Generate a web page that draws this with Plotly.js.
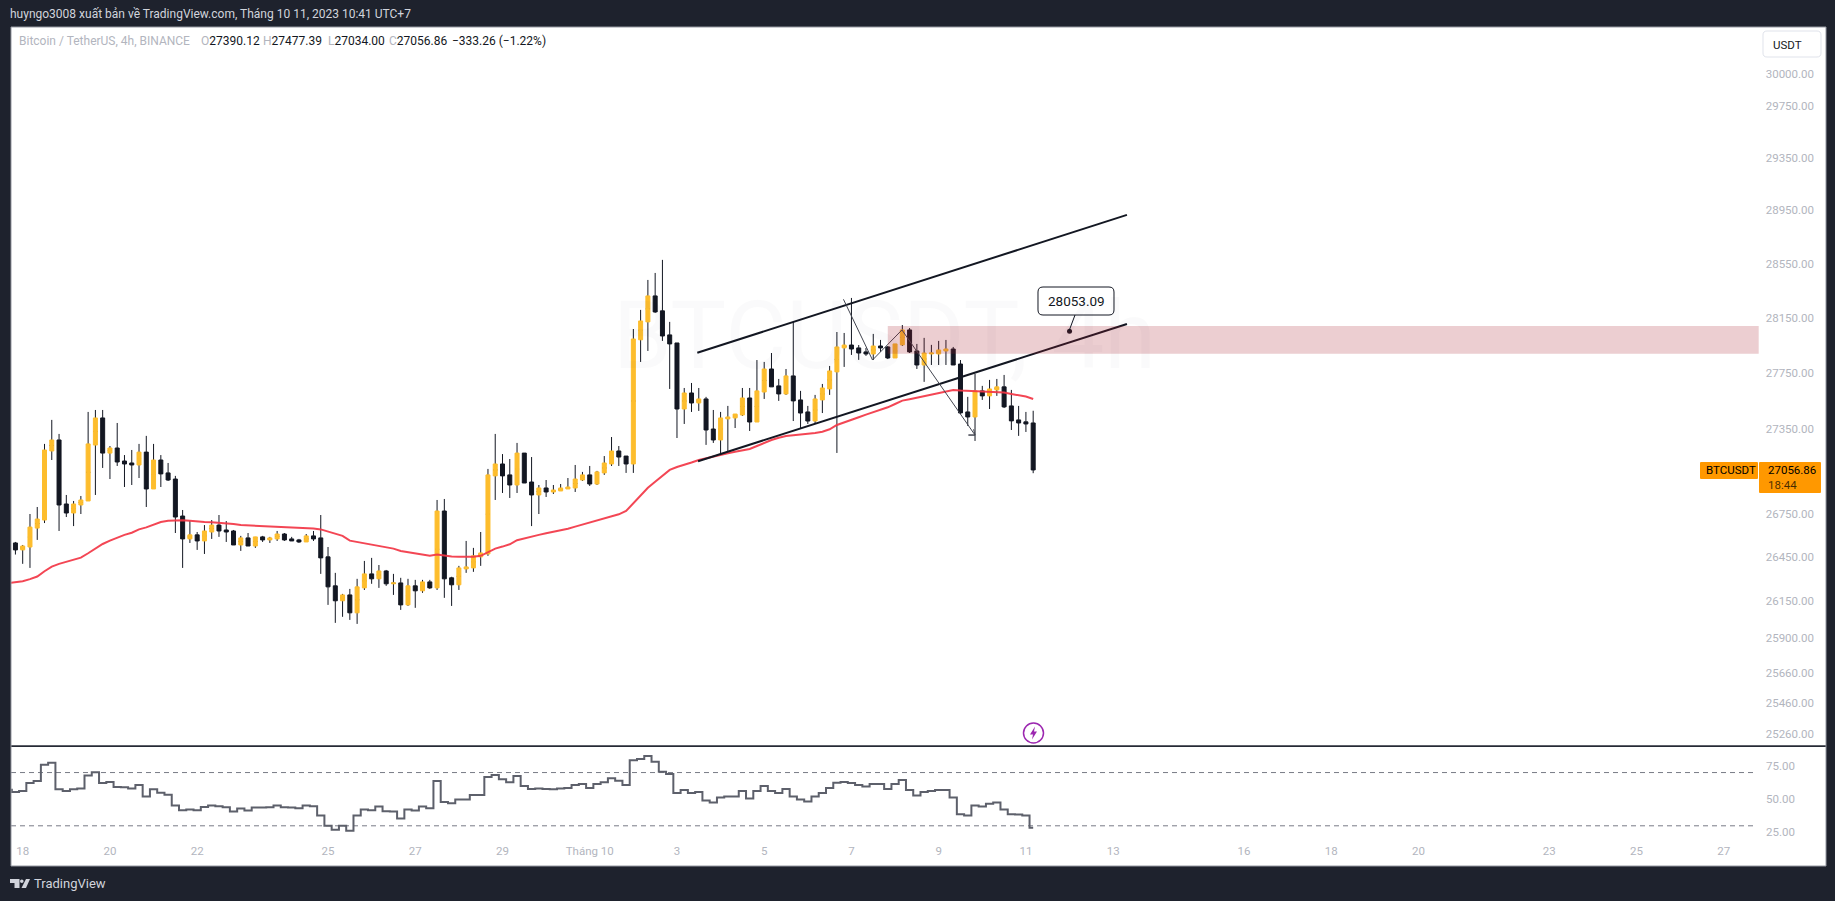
<!DOCTYPE html>
<html><head><meta charset="utf-8">
<script src="https://cdn.plot.ly/plotly-3.0.1.min.js"></script>
<style>html,body{margin:0;padding:0;background:#1e222d;overflow:hidden}#c{width:1835px;height:901px}</style>
</head><body><div id="c"></div>
<script>
// 4h candles, Binance BTC/USDT; the first bar is two bars before the "18" tick
const opens=[26568,26547,26499,26519,26650,26706,27191,27269,26818,26755,
26811,26839,27233,27426,27176,27212,27120,27106,27092,27183,
26923,27127,27036,26993,26734,26575,26603,26561,26623,26671,
26637,26630,26533,26582,26526,26589,26568,26575,26609,26575,
26568,26554,26596,26582,26451,26252,26150,26190,26068,26238,
26334,26300,26354,26266,26272,26122,26252,26218,26279,26238,
26769,26307,26259,26368,26375,26451,26471,27015,27099,27022,
26951,27176,26972,26881,26930,26902,26909,26923,26930,26986,
27022,26958,27036,27099,27191,27155,27099,27990,28121,28312,
28202,28026,27967,27490,27605,27533,27562,27347,27269,27419,
27426,27447,27569,27397,27612,27778,27656,27598,27728,27555,
27469,27404,27555,27634,27757,27931,27952,27931,27902,27887,
27945,27938,27858,27953,28062,27909,27807,27887,27887,27909,
27923,27814,27469,27433,27620,27584,27627,27649,27512,27412,
27398,27390.12];
const highs=[26575,26554,26533,26748,26797,27241,27412,27312,26881,26839,
26874,27469,27483,27483,27226,27390,27162,27198,27241,27298,
27241,27162,27106,27015,26776,26699,26623,26671,26706,26741,
26699,26637,26596,26616,26589,26596,26589,26630,26616,26589,
26575,26609,26630,26741,26519,26341,26197,26231,26300,26423,
26444,26395,26361,26334,26307,26300,26293,26293,26293,26846,
26853,26314,26389,26561,26513,26623,27064,27312,27169,27134,
27248,27176,27148,26951,26986,26951,26958,27000,27092,27043,
27085,27050,27155,27290,27226,27155,28069,28209,28430,28482,
28579,28121,27967,27641,27677,27641,27577,27483,27469,27512,
27454,27641,27641,27843,27829,27894,27706,27778,28121,27620,
27512,27591,27670,27800,28047,28040,28297,27952,27931,28033,
27989,27945,27960,28098,28076,27960,28004,27953,27982,27989,
27938,27843,27577,27742,27656,27699,27706,27735,27627,27512,
27469,27477.39];
const lows=[26533,26467,26403,26375,26568,26685,27127,26630,26727,26664,
26748,26839,26881,27071,26993,27085,26937,26951,27000,26797,
26923,26937,26979,26616,26375,26547,26499,26471,26575,26589,
26554,26533,26492,26526,26513,26554,26547,26561,26561,26561,
26547,26554,26561,26334,26122,26000,26041,26020,25993,26224,
26266,26238,26252,26190,26088,26115,26102,26204,26231,26224,
26170,26115,26224,26341,26348,26389,26458,26846,26895,26860,
26895,26965,26664,26748,26867,26888,26909,26923,26902,26979,
26944,26951,27022,27085,27085,27036,27036,27829,27909,28187,
27982,27634,27283,27383,27469,27476,27234,27248,27163,27191,
27354,27440,27333,27397,27562,27649,27548,27591,27404,27347,
27383,27383,27461,27591,27177,27793,27880,27844,27873,27843,
27902,27850,27858,27945,27894,27778,27685,27807,27807,27807,
27807,27454,27369,27262,27555,27490,27584,27497,27340,27298,
27326,27034];
const closes=[26540,26499,26526,26657,26713,27198,27269,26811,26755,26818,
26846,27241,27426,27176,27212,27113,27099,27092,27183,26923,
27127,27029,26986,26727,26575,26603,26561,26630,26671,26630,
26623,26533,26582,26526,26589,26568,26582,26609,26568,26561,
26554,26596,26575,26444,26245,26150,26190,26068,26245,26334,
26300,26354,26266,26272,26122,26252,26218,26279,26238,26769,
26300,26259,26375,26382,26458,26478,27022,27099,27015,26951,
27176,26965,26881,26930,26902,26916,26930,26937,26993,27022,
26958,27043,27106,27191,27148,27099,27996,28128,28312,28194,
28018,27960,27490,27605,27533,27562,27340,27269,27426,27433,
27454,27569,27397,27620,27778,27649,27598,27728,27548,27461,
27404,27562,27641,27764,27938,27952,27923,27894,27887,27945,
27931,27858,27960,28062,27902,27807,27894,27894,27916,27923,
27807,27462,27433,27620,27584,27634,27649,27505,27405,27390,
27383,27056.86];
const movingAverage=[26270,26275,26284,26298,26316,26352,26384,26403,26416,26430,
26446,26476,26511,26540,26563,26584,26603,26618,26641,26655,
26676,26692,26701,26704,26704,26701,26695,26692,26690,26687,
26683,26678,26671,26669,26667,26664,26662,26660,26657,26655,
26653,26650,26648,26641,26627,26611,26596,26563,26554,26545,
26536,26531,26522,26508,26492,26483,26473,26467,26458,26467,
26458,26453,26451,26451,26451,26458,26483,26508,26522,26538,
26566,26580,26591,26603,26614,26623,26635,26646,26660,26674,
26685,26699,26715,26732,26746,26769,26825,26876,26932,26974,
27014,27057,27078,27092,27109,27127,27140,27151,27163,27175,
27186,27196,27205,27226,27250,27269,27285,27297,27302,27307,
27314,27319,27328,27345,27376,27393,27412,27431,27450,27467,
27483,27502,27526,27550,27560,27572,27581,27591,27603,27617,
27627,27622,27620,27617,27617,27615,27613,27608,27598,27591,
27579,27562];
const rsi=[57.1,55.3,56.1,62.2,63.7,75.8,77.3,57.4,56.1,57.4,
58.1,67.7,70.2,62.2,62.9,59.1,58.9,58.1,60.6,52.0,
57.4,54.8,53.3,45.2,41.7,42.2,41.7,44.2,45.2,44.7,
44.0,40.7,43.0,41.5,43.7,43.7,44.0,45.2,44.0,43.7,
43.2,45.2,44.7,37.7,30.1,27.1,30.1,26.3,37.7,42.2,
41.7,44.5,41.0,40.7,35.4,42.2,41.5,44.5,43.2,63.7,
47.8,47.0,49.8,49.8,53.1,53.1,66.7,68.2,64.9,62.7,
67.5,59.9,57.6,58.1,57.6,57.4,58.1,58.4,60.6,61.4,
58.4,61.4,62.7,65.7,63.9,60.6,79.3,80.1,82.4,78.1,
70.7,69.0,54.6,56.9,54.6,55.3,49.0,47.5,51.3,52.0,
52.0,56.1,50.5,56.1,59.9,56.1,54.6,57.6,52.0,49.8,
48.3,52.0,54.6,58.4,62.4,62.9,62.2,60.6,59.6,61.4,
61.4,57.6,61.4,64.4,56.9,52.8,55.3,56.1,56.9,56.9,
51.3,38.7,37.7,45.2,44.5,46.5,47.5,42.2,38.7,38.4,
37.7,28.6];
const barIndex=opens.map((_,k)=>k-2);

const dayTickBars=[0,12,24,42,54,66,78,90,102,114,126,138,150,168,180,192,210,222,234];
const dayTickLabels=['18','20','22','25','27','29','Tháng 10','3','5','7','9','11','13','16','18','20','23','25','27'];
const priceTicks=[30000,29750,29350,28950,28550,28150,27750,27350,26750,26450,26150,25900,25660,25460,25260];
const rsiTicks=[75,50,25];
const rsiBands=[70,30];

const channelUpperX=[92.8,151.9], channelUpperY=[27896,28916];
const channelLowerX=[92.9,151.9], channelLowerY=[27118,28106];
const zigzagX=[112.9,116.9,120.95,131.0,130.1,131.0,130.8];
const zigzagY=[28287,27843,28062,27304,27304,27304,27345];
const zoneX=[119,238.8], zoneY=[27889,28091];
const calloutX=[144], calloutY=[28053.09];

// page geometry
const L=11,R=1826,T=27,B=866,SEP=746;
const px=x=>(x-L)/(R-L), py=y=>(B-y)/(B-T);
const pt=(x,y)=>px(x).toFixed(6)+' '+py(y).toFixed(6);
function roundRect(x0,y0,x1,y1,r){
  return 'M'+pt(x0+r,y0)+' L'+pt(x1-r,y0)+' Q'+pt(x1,y0)+' '+pt(x1,y0+r)+' L'+pt(x1,y1-r)+' Q'+pt(x1,y1)+' '+pt(x1-r,y1)+
  ' L'+pt(x0+r,y1)+' Q'+pt(x0,y1)+' '+pt(x0,y1-r)+' L'+pt(x0,y0+r)+' Q'+pt(x0,y0)+' '+pt(x0+r,y0)+' Z';
}
function poly(points){return 'M'+points.map(p=>pt(p[0],p[1])).join(' L')+' Z';}
function paperShape(path,fill,line,w){return {type:'path',xref:'paper',yref:'paper',path:path,fillcolor:fill,line:{color:line||'rgba(0,0,0,0)',width:w||0},layer:'above'};}
function txt(x,y,s,size,color,anchor,extra){return Object.assign({xref:'paper',yref:'paper',x:px(x),y:py(y),text:s,showarrow:false,
  xanchor:anchor||'left',yanchor:'middle',align:'left',font:{family:'Roboto, Liberation Sans, sans-serif',size:size,color:color},borderpad:0},extra||{});}

const FONT='Roboto, Liberation Sans, sans-serif';
const grey='#b2b5be', ink='#131722', gold='#fdbd2d';

// rising bars: dark wicks underneath, gold bodies on top
const isUp=barIndex.map((_,k)=>closes[k]>=opens[k]);
const pick=arr=>arr.filter((_,k)=>isUp[k]);
const wickOpen=opens.map((o,k)=>isUp[k]?(o+closes[k])/2:o);
const wickClose=closes.map((c,k)=>isUp[k]?(opens[k]+c)/2:c);

const traces=[
 {type:'candlestick',x:barIndex,open:wickOpen,high:highs,low:lows,close:wickClose,xaxis:'x',yaxis:'y',whiskerwidth:0,
  increasing:{line:{color:ink,width:1},fillcolor:ink},decreasing:{line:{color:ink,width:1},fillcolor:ink},hoverinfo:'skip',showlegend:false},
 {type:'candlestick',x:pick(barIndex),open:pick(opens),high:pick(closes),low:pick(opens),close:pick(closes),xaxis:'x',yaxis:'y',whiskerwidth:0,
  increasing:{line:{color:gold,width:1},fillcolor:gold},decreasing:{line:{color:gold,width:1},fillcolor:gold},hoverinfo:'skip',showlegend:false},
 {type:'scatter',mode:'lines',x:barIndex,y:movingAverage,xaxis:'x',yaxis:'y',line:{color:'#f23645',width:2},opacity:.92,hoverinfo:'skip',showlegend:false},
 {type:'scatter',mode:'lines',x:channelUpperX,y:channelUpperY,xaxis:'x',yaxis:'y',line:{color:ink,width:2},hoverinfo:'skip',showlegend:false},
 {type:'scatter',mode:'lines',x:channelLowerX,y:channelLowerY,xaxis:'x',yaxis:'y',line:{color:ink,width:2},hoverinfo:'skip',showlegend:false},
 {type:'scatter',mode:'lines',x:zigzagX,y:zigzagY,xaxis:'x',yaxis:'y',line:{color:'#434651',width:1},hoverinfo:'skip',showlegend:false},
 {type:'scatter',mode:'markers',x:calloutX,y:calloutY,xaxis:'x',yaxis:'y',marker:{color:ink,size:5},hoverinfo:'skip',showlegend:false},
 {type:'scatter',mode:'lines',x:barIndex,y:rsi,xaxis:'x',yaxis:'y2',line:{color:'#5d606b',width:2,shape:'hvh'},hoverinfo:'skip',showlegend:false}
];

const layout={
 width:1835,height:901,autosize:false,paper_bgcolor:'#1e222d',plot_bgcolor:'#ffffff',showlegend:false,dragmode:false,
 margin:{l:L,r:1835-R,t:T,b:901-B,pad:0},boxgap:0.45,boxgroupgap:0,boxmode:'overlay',font:{family:FONT},
 xaxis:{anchor:'y2',domain:[0,1],range:[-1.61,248.06],tickmode:'array',tickvals:dayTickBars,ticktext:dayTickLabels,showgrid:false,zeroline:false,showline:false,
  ticks:'',ticklabelposition:'inside',ticklabelstandoff:6,tickfont:{family:FONT,size:11.5,color:grey},rangeslider:{visible:false},fixedrange:true,automargin:false},
 yaxis:{domain:[(B-SEP)/(B-T),1],type:'log',range:[4.40104,4.48240],side:'right',anchor:'x',tickmode:'array',tickvals:priceTicks,ticktext:priceTicks.map(v=>v.toFixed(2)),
  ticklabelposition:'inside',ticklabelstandoff:9,ticks:'',showgrid:false,zeroline:false,showline:false,tickfont:{family:FONT,size:11.5,color:grey},fixedrange:true,automargin:false},
 yaxis2:{domain:[0,(B-SEP-1)/(B-T)],range:[-0.2,89.2],side:'right',anchor:'x',tickmode:'array',tickvals:rsiTicks,ticktext:rsiTicks.map(v=>v.toFixed(2)),
  ticklabelposition:'inside',ticklabelstandoff:28,ticks:'',showgrid:false,zeroline:false,showline:false,tickfont:{family:FONT,size:11.5,color:grey},fixedrange:true,automargin:false},
 shapes:[
  {type:'rect',xref:'x',yref:'y',x0:zoneX[0],x1:zoneX[1],y0:zoneY[0],y1:zoneY[1],fillcolor:'rgba(170,30,45,0.22)',line:{width:0},layer:'above'},
  {type:'line',xref:'x',yref:'y2',x0:-1.61,x1:238.4,y0:rsiBands[0],y1:rsiBands[0],line:{color:'#787b86',width:1,dash:'5px,4px'},layer:'below'},
  {type:'line',xref:'x',yref:'y2',x0:-1.61,x1:238.4,y0:rsiBands[1],y1:rsiBands[1],line:{color:'#787b86',width:1,dash:'5px,4px'},layer:'below'},
  {type:'line',xref:'paper',yref:'paper',x0:0,x1:1,y0:py(SEP),y1:py(SEP),line:{color:'#2a2e39',width:1.5},layer:'above'},
  {type:'rect',xref:'paper',yref:'paper',x0:0,x1:1,y0:0,y1:1,line:{color:'#9598a1',width:1},fillcolor:'rgba(0,0,0,0)',layer:'above'},
  // currency button
  paperShape(roundRect(1763,31,1821,57,4),'#ffffff','#e0e3eb',1),
  // price tags
  paperShape(roundRect(1700,462,1758,479,1),'#ff9800'),
  paperShape(roundRect(1759,462,1821,493,1),'#ff9800'),
  // callout
  {type:'line',xref:'paper',yref:'paper',x0:px(1075),x1:px(1069),y0:py(315),y1:py(331),line:{color:ink,width:1},layer:'above'},
  paperShape(roundRect(1038,287,1114,315,5),'#ffffff',ink,1),
  // event badge
  {type:'circle',xref:'paper',yref:'paper',x0:px(1023.5),x1:px(1043.5),y0:py(743),y1:py(723),fillcolor:'#ffffff',line:{color:'#9c27b0',width:1.5},layer:'above'},
  paperShape(poly([[1035,726.5],[1030,734.5],[1033,734.5],[1032,739.5],[1037,731.5],[1034,731.5]]),'#9c27b0'),
  // TradingView mark
  paperShape(poly([[10,879],[19.5,879],[19.5,888],[14.5,888],[14.5,883],[10,883]]),'#d1d4dc'),
  paperShape(poly([[26,879],[30,879],[26,888],[21.5,888]]),'#d1d4dc'),
  {type:'circle',xref:'paper',yref:'paper',x0:px(20),x1:px(23.6),y0:py(883),y1:py(879.4),fillcolor:'#d1d4dc',line:{width:0},layer:'above'}
 ],
 annotations:[
  txt(884,336,'BTCUSDT, 4h',94,'rgba(19,23,34,0.02)','center'),
  txt(884,441,'Bitcoin / TetherUS',48,'rgba(19,23,34,0.02)','center'),
  txt(9,14,'huyngo3008 xuất bản về TradingView.com, Tháng 10 11, 2023 10:41 UTC+7',12,'#d1d4dc'),
  txt(18,41,'Bitcoin / TetherUS, 4h, BINANCE',12,grey),
  txt(199.5,41,'<span style="color:#b2b5be">O</span>27390.12',12,ink),
  txt(262,41,'<span style="color:#b2b5be">H</span>27477.39',12,ink),
  txt(326.5,41,'<span style="color:#b2b5be">L</span>27034.00',12,ink),
  txt(388,41,'<span style="color:#b2b5be">C</span>27056.86',12,ink),
  txt(451,41,'−333.26 (−1.22%)',12,ink),
  txt(1772,44.5,'USDT',11.5,ink),
  txt(1705,470,'BTCUSDT',11.5,'#000000'),
  txt(1767,470,'27056.86',11.5,'#000000'),
  txt(1767,485,'18:44',11.5,'rgba(0,0,0,0.72)'),
  txt(1076,301,'28053.09',13.5,ink,'center'),
  txt(33,883.5,'TradingView',13,'#d1d4dc')
 ]
};
Plotly.newPlot('c',traces,layout,{displayModeBar:false,staticPlot:true,responsive:false});
</script></body></html>
